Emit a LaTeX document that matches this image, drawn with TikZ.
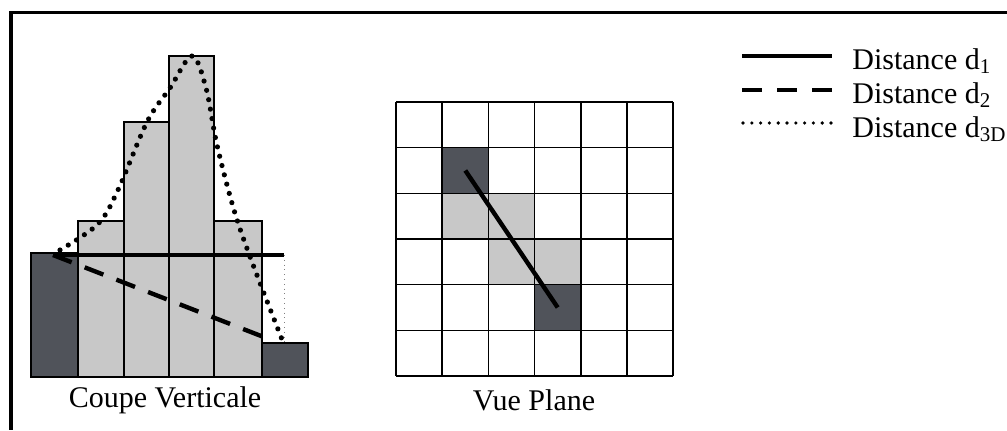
\documentclass[tikz,border=0pt]{standalone}
\usepackage{fontspec}
\setmainfont{Liberation Serif}
\usepackage{xcolor}
\usepackage{tikz}
\usetikzlibrary{
    arrows.meta,
    positioning,
    calc
}
\definecolor{darkcell}{RGB}{80,83,90}
\definecolor{lightcell}{RGB}{200,200,200}
\tikzset{
    frameline/.style={
        draw=black,
        line width=1.6pt
    },
    darkbar/.style={
        fill=darkcell,
        draw=black,
        line width=0.6pt
    },
    lightbar/.style={
        fill=lightcell,
        draw=black,
        line width=0.6pt
    },
    gridline/.style={
        draw=black,
        line width=0.75pt
    },
    dist1/.style={
        draw=black,
        line width=2.2pt
    },
    dist2/.style={
        draw=black,
        line width=2.2pt,
        dash pattern=on 10pt off 7pt
    },
    dist3d/.style={
        draw=black,
        line width=2.6pt,
        line cap=round,
        dash pattern=on 0pt off 4.8pt
    },
    caption/.style={
        font=\fontsize{15}{18}\selectfont,
        inner sep=0pt
    },
    legendtext/.style={
        font=\fontsize{15}{18}\selectfont,
        inner sep=0pt,
        anchor=base west
    }
}

\begin{document}
\begin{tikzpicture}[x=0.5pt, y=-0.5pt]
\useasboundingbox (0,0) rectangle (1007,430);

% frame
\draw[frameline] (1007,12.5) -- (11,12.5) -- (11,430);

% vertical cut
\filldraw[darkbar] (31,253) rectangle (78,377);
\filldraw[lightbar] (78,221) rectangle (124,377);
\filldraw[lightbar] (124,122) rectangle (169,377);
\filldraw[lightbar] (169,56) rectangle (214,377);
\filldraw[lightbar] (214,221) rectangle (262,377);
\filldraw[darkbar] (262,343) rectangle (308,377);

\coordinate (start) at (53,255);
\coordinate (flat) at (284,255);
\coordinate (low) at (284,343);
\coordinate (finish) at (274,341);

\draw[dist1] (start) -- (flat);
\draw[dist2] (start) -- (finish);
\draw[gray, dotted, line width=0.4pt] (flat) -- (low);
\draw[dist3d] plot[smooth, tension=0.55] coordinates {
    (60,250) (98,224) (118,190) (147,122) (170,88) (192,56)
    (206,88) (217,145) (234,210) (252,262) (283,342)};

\node[caption] (coupe) at (165,400) {Coupe Verticale};

% plane view
\fill[darkcell] (442.2,147.7) rectangle (488.4,193.3);
\fill[darkcell] (534.6,284.7) rectangle (580.8,330.3);
\fill[lightcell] (442.2,193.3) rectangle (534.6,239.0);
\fill[lightcell] (488.4,239.0) rectangle (580.8,284.7);
\foreach \i in {0,...,6} {
    \draw[gridline] ({396+46.2*\i},102) -- ({396+46.2*\i},376);
    \draw[gridline] (396,{102+45.67*\i}) -- (673,{102+45.67*\i});
}
\coordinate (cellA) at (465.3,170.5);
\coordinate (cellB) at (557.7,307.5);
\draw[dist1] (cellA) -- (cellB);

\node[caption] (vue) at (534,400) {Vue Plane};

% legend
\coordinate (l1a) at (742,56);
\coordinate (l1b) at (832,56);
\coordinate (l2a) at (742,90);
\coordinate (l2b) at (832,90);
\coordinate (l3a) at (743,123);
\coordinate (l3b) at (831,123);
\draw[dist1] (l1a) -- (l1b);
\draw[dist2, dash pattern=on 10pt off 7.5pt] (l2a) -- (l2b);
\draw[dist3d, line width=1.8pt, dash pattern=on 0pt off 4.4pt] (l3a) -- (l3b);
\node[legendtext] (d1) at (852,69) {Distance d\textsubscript{1}};
\node[legendtext] (d2) at (852,103) {Distance d\textsubscript{2}};
\node[legendtext] (d3) at (852,137) {Distance d\textsubscript{3D}};

\end{tikzpicture}
\end{document}
